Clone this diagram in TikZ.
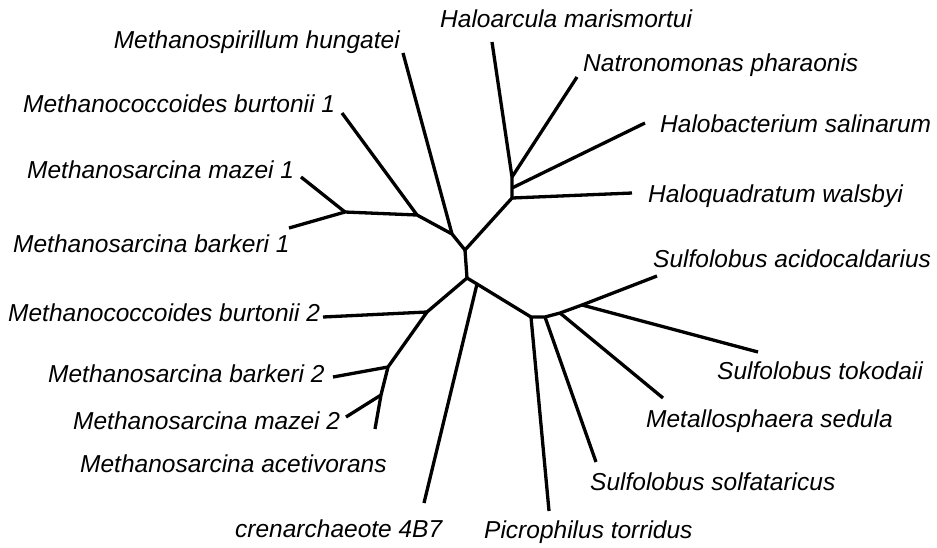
\documentclass[tikz,border=0pt]{standalone}
\usepackage{fontspec}
\setmainfont{Liberation Sans}
\usepackage{tikz}

\begin{document}
\begin{tikzpicture}[x=1pt,y=-1pt,
  every node/.style={font=\fontsize{24.5}{28}\selectfont\itshape,inner sep=0pt},
  branch/.style={line width=3.3pt,line join=round}]
\useasboundingbox (0,0) rectangle (937,547);
% inner nodes
\coordinate (r1) at (465,250);
\coordinate (r2) at (467,278);
\coordinate (m1) at (452,234);
\coordinate (m2) at (417,215);
\coordinate (m3) at (345,212);
\coordinate (h1) at (512,198);
\coordinate (h2) at (512,188);
\coordinate (h3) at (512,177);
\coordinate (l1) at (427,312);
\coordinate (l2) at (388,367);
\coordinate (l3) at (381,395);
\coordinate (c1) at (477,284);
\coordinate (s0) at (531,317);
\coordinate (s1) at (545,317);
\coordinate (s2) at (560,313);
\coordinate (s3) at (582,305);
% leaf ends
\coordinate (hun) at (403,53);
\coordinate (bur1) at (342,113);
\coordinate (maz1) at (301,177);
\coordinate (bar1) at (289,228);
\coordinate (bur2) at (323,317);
\coordinate (bar2) at (333,377);
\coordinate (maz2) at (346,417);
\coordinate (ace) at (375,429);
\coordinate (cre) at (424,503);
\coordinate (pic) at (549,511);
\coordinate (sol) at (596,462);
\coordinate (met) at (663,398);
\coordinate (tok) at (758,352);
\coordinate (aci) at (657,276);
\coordinate (hqu) at (632,193);
\coordinate (hba) at (645,123);
\coordinate (nat) at (577,77);
\coordinate (arc) at (492,42);
% labels
\node[anchor=base east] (hunL) at (400,48) {Methanospirillum hungatei};
\node[anchor=base west] (bur1L) at (23,112) {Methanococcoides burtonii 1};
\node[anchor=base west] (maz1L) at (27,178) {Methanosarcina mazei 1};
\node[anchor=base west] (bar1L) at (13,252) {Methanosarcina barkeri 1};
\node[anchor=base west] (bur2L) at (8,321) {Methanococcoides burtonii 2};
\node[anchor=base west] (bar2L) at (48,382) {Methanosarcina barkeri 2};
\node[anchor=base west] (maz2L) at (73,429) {Methanosarcina mazei 2};
\node[anchor=base west] (aceL) at (80,472) {Methanosarcina acetivorans};
\node[anchor=base west] (creL) at (235,537) {crenarchaeote 4B7};
\node[anchor=base west] (picL) at (484,538) {Picrophilus torridus};
\node[anchor=base west] (solL) at (590,490) {Sulfolobus solfataricus};
\node[anchor=base west] (metL) at (646,427) {Metallosphaera sedula};
\node[anchor=base west] (tokL) at (717,379) {Sulfolobus tokodaii};
\node[anchor=base west] (aciL) at (653,267) {Sulfolobus acidocaldarius};
\node[anchor=base west] (hquL) at (648,202) {Haloquadratum walsbyi};
\node[anchor=base west] (hbaL) at (660,132) {Halobacterium salinarum};
\node[anchor=base west] (natL) at (583,71) {Natronomonas pharaonis};
\node[anchor=base west] (arcL) at (440,27) {Haloarcula marismortui};
% branches
\draw[branch] (bar1) -- (m3) -- (m2) -- (m1) -- (r1) -- (h1) -- (h2) -- (h3) -- (arc);
\draw[branch] (maz1) -- (m3);
\draw[branch] (bur1) -- (m2);
\draw[branch] (hun) -- (m1);
\draw[branch] (h1) -- (hqu);
\draw[branch] (h2) -- (hba);
\draw[branch] (h3) -- (nat);
\draw[branch] (r1) -- (r2) -- (c1) -- (s0) -- (s1) -- (s2) -- (s3) -- (aci);
\draw[branch] (r2) -- (l1) -- (l2) -- (l3) -- (ace);
\draw[branch] (l1) -- (bur2);
\draw[branch] (l2) -- (bar2);
\draw[branch] (l3) -- (maz2);
\draw[branch] (c1) -- (cre);
\draw[branch] (s0) -- (pic);
\draw[branch] (s1) -- (sol);
\draw[branch] (s2) -- (met);
\draw[branch] (s3) -- (tok);
\end{tikzpicture}
\end{document}
